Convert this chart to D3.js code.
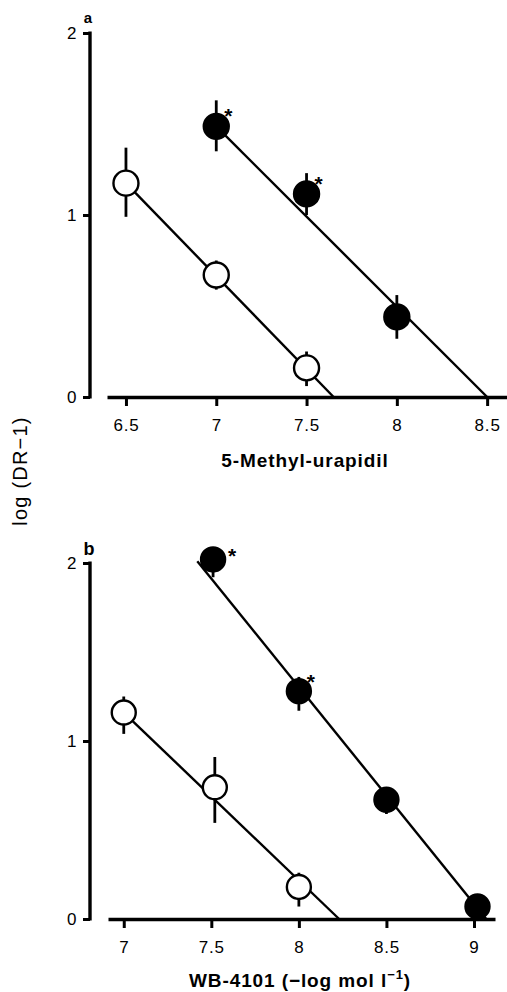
<!DOCTYPE html>
<html><head><meta charset="utf-8">
<script src="https://cdn.jsdelivr.net/npm/d3@7"></script>
<style>
html,body{margin:0;padding:0;background:#fff;}
svg{display:block;font-family:"Liberation Sans",Arial,Helvetica,sans-serif;}
</style></head>
<body>
<script>
// ---------- Panel a : 5-Methyl-urapidil ----------
const aOpenX = [6.5, 7, 7.5];
const aOpenY = [1.175, 0.67, 0.16];
const aOpenLo = [0.99, 0.59, 0.06];
const aOpenHi = [1.37, 0.75, 0.25];
const aFillX = [7, 7.5, 8];
const aFillY = [1.487, 1.116, 0.44];
const aFillLo = [1.35, 1.0, 0.32];
const aFillHi = [1.63, 1.23, 0.56];
const aFillStar = [true, true, false];
const aOpenLine = [[6.5, 1.175], [7.65, 0]];
const aFillLine = [[7, 1.487], [8.5, 0]];
const aXTicks = [6.5, 7, 7.5, 8, 8.5];
const aXTickLabels = ["6.5", "7", "7.5", "8", "8.5"];

// ---------- Panel b : WB-4101 ----------
const bOpenX = [7, 7.52, 8];
const bOpenY = [1.16, 0.74, 0.18];
const bOpenLo = [1.04, 0.54, 0.07];
const bOpenHi = [1.25, 0.91, 0.26];
const bFillX = [7.51, 8, 8.5, 9.02];
const bFillY = [2.02, 1.28, 0.67, 0.07];
const bFillLo = [1.92, 1.17, 0.59, 0.03];
const bFillHi = [2.08, 1.36, 0.72, 0.11];
const bFillStar = [true, true, false, false];
const bOpenLine = [[7, 1.16], [8.23, 0]];
const bFillLine = [[7.42, 2.01], [9.07, 0]];
const bXTicks = [7, 7.5, 8, 8.5, 9];
const bXTickLabels = ["7", "7.5", "8", "8.5", "9"];

const yTicks = [0, 1, 2];
const yTickLabels = ["0", "1", "2"];

const FONT = '"Liberation Sans",Arial,Helvetica,sans-serif';
const W = 507, H = 992;
const svg = d3.select("body").append("svg").attr("width", W).attr("height", H);

function panel(cfg) {
  const g = svg.append("g");
  const x = d3.scaleLinear().domain(cfg.xDomain).range(cfg.xRange);
  const y = d3.scaleLinear().domain([0, 2]).range(cfg.yRange);

  // y axis
  const ya = g.append("g").attr("transform", `translate(${cfg.yAxisX},0)`)
    .call(d3.axisLeft(y).tickValues(yTicks).tickFormat((d, i) => yTickLabels[i])
      .tickSize(7).tickSizeOuter(0).tickPadding(6));
  ya.attr("font-family", FONT);
  ya.select(".domain").attr("stroke", "#000").attr("stroke-width", 3.4)
    .attr("d", `M0,${y(2) - 1.5}V${y(0) + 1.5}`);
  ya.selectAll(".tick line").attr("stroke", "#000").attr("stroke-width", 3);
  ya.selectAll(".tick text").attr("fill", "#000").attr("font-size", 17)
    .attr("letter-spacing", 0.5);

  // x axis
  const xa = g.append("g").attr("transform", `translate(0,${y(0)})`)
    .call(d3.axisBottom(x).tickValues(cfg.xTicks).tickFormat((d, i) => cfg.xTickLabels[i])
      .tickSize(9).tickSizeOuter(0).tickPadding(13));
  xa.attr("font-family", FONT);
  xa.select(".domain").attr("stroke", "#000").attr("stroke-width", 3.6);
  xa.selectAll(".tick line").attr("stroke", "#000").attr("stroke-width", 3);
  xa.selectAll(".tick text").attr("fill", "#000").attr("font-size", 17)
    .attr("letter-spacing", 0.8);

  // regression lines
  [cfg.openLine, cfg.fillLine].forEach(L => {
    g.append("line")
      .attr("x1", x(L[0][0])).attr("y1", y(L[0][1]))
      .attr("x2", x(L[1][0])).attr("y2", y(L[1][1]))
      .attr("stroke", "#000").attr("stroke-width", 2.4);
  });

  function series(X, Y, Lo, Hi, filled, stars) {
    X.forEach((xv, i) => {
      g.append("line")
        .attr("x1", x(xv)).attr("x2", x(xv))
        .attr("y1", y(Lo[i])).attr("y2", y(Hi[i]))
        .attr("stroke", "#000").attr("stroke-width", 2.8);
      g.append("circle")
        .attr("cx", x(xv)).attr("cy", y(Y[i])).attr("r", cfg.r)
        .attr("fill", filled ? "#000" : "#fff")
        .attr("stroke", "#000").attr("stroke-width", 2.4);
      if (stars && stars[i]) {
        g.append("text").attr("x", x(xv) + cfg.starDx[i]).attr("y", y(Y[i]) + cfg.starDy[i])
          .attr("font-size", 21).attr("font-weight", "bold").attr("text-anchor", "middle")
          .text("*");
      }
    });
  }
  series(cfg.openX, cfg.openY, cfg.openLo, cfg.openHi, false, null);
  series(cfg.fillX, cfg.fillY, cfg.fillLo, cfg.fillHi, true, cfg.stars);

  // panel letter
  g.append("text").attr("x", cfg.letterX).attr("y", cfg.letterY)
    .attr("font-size", cfg.letterSize).attr("font-weight", "bold").attr("text-anchor", "middle")
    .text(cfg.letter);
  return {x, y, g};
}

panel({
  xDomain: [6.395, 8.61], xRange: [107, 507], yRange: [397, 33], yAxisX: 90,
  xTicks: aXTicks, xTickLabels: aXTickLabels,
  openX: aOpenX, openY: aOpenY, openLo: aOpenLo, openHi: aOpenHi,
  fillX: aFillX, fillY: aFillY, fillLo: aFillLo, fillHi: aFillHi, stars: aFillStar,
  starDx: [12, 12, 0], starDy: [-3, -3, 0],
  openLine: aOpenLine, fillLine: aFillLine, r: 12.5,
  letter: "a", letterX: 88, letterY: 23, letterSize: 15
});

panel({
  xDomain: [6.91, 9.12], xRange: [108, 495], yRange: [919, 563], yAxisX: 90,
  xTicks: bXTicks, xTickLabels: bXTickLabels,
  openX: bOpenX, openY: bOpenY, openLo: bOpenLo, openHi: bOpenHi,
  fillX: bFillX, fillY: bFillY, fillLo: bFillLo, fillHi: bFillHi, stars: bFillStar,
  starDx: [19, 12, 0, 0], starDy: [4, -2, 0, 0],
  openLine: bOpenLine, fillLine: bFillLine, r: 12,
  letter: "b", letterX: 89, letterY: 555, letterSize: 18
});

// axis titles
svg.append("text").attr("x", 305).attr("y", 467).attr("text-anchor", "middle")
  .attr("font-size", 19).attr("font-weight", "bold").attr("letter-spacing", 0.9)
  .text("5-Methyl-urapidil");

const t2 = svg.append("text").attr("x", 300).attr("y", 987).attr("text-anchor", "middle")
  .attr("font-size", 19).attr("font-weight", "bold").attr("letter-spacing", 0.9);
t2.append("tspan").text("WB-4101 (\u2212log mol l");
t2.append("tspan").attr("font-size", 13).attr("dy", -8).text("\u22121");
t2.append("tspan").attr("dy", 8).text(")");

svg.append("text").attr("transform", "translate(27,471) rotate(-90)")
  .attr("text-anchor", "middle").attr("font-size", 20)
  .attr("letter-spacing", 1.2)
  .text("log (DR\u22121)");
</script>
</body></html>
